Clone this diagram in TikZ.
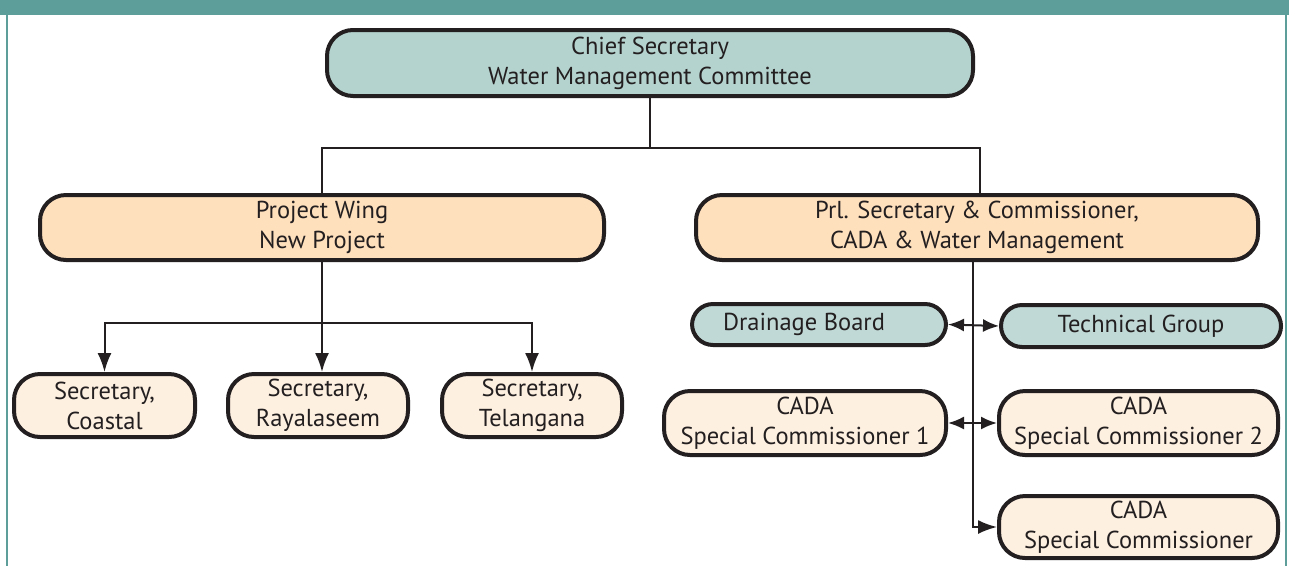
\documentclass[tikz,border=0pt]{standalone}
\usepackage{fontspec}
\setmainfont{PT Sans}
\usetikzlibrary{arrows.meta}
\definecolor{teal}{HTML}{5E9E9A}
\definecolor{tealfill}{HTML}{B5D3CE}
\definecolor{tealfillb}{HTML}{C0D9D6}
\definecolor{peach}{HTML}{FFE0BD}
\definecolor{cream}{HTML}{FEF0E1}
\definecolor{ink}{HTML}{231F20}
\tikzset{
  box/.style={draw=ink, line width=4pt, rounded corners=26pt, inner sep=0pt, align=center,
    font=\fontsize{24.5}{30}\selectfont, text=ink},
  pill/.style={box, rounded corners=21pt},
  conn/.style={draw=ink, line width=2pt},
  arr/.style={conn, arrows={-Latex[length=19pt,width=14pt]}},
  darr/.style={conn, arrows={Latex[length=16pt,width=13pt]-Latex[length=16pt,width=13pt]}},
}
\begin{document}
\begin{tikzpicture}[x=1pt,y=-1pt]
\useasboundingbox (0,0) rectangle (1289,566);
\fill[white] (0,0) rectangle (1289,566);
\fill[teal] (0,0) rectangle (1289,15);
\draw[teal, line width=2pt] (6.5,15) -- (6.5,566);
\draw[teal, line width=2pt] (1285.5,15) -- (1285.5,566);

\node[box, fill=tealfill, minimum width=646pt, minimum height=66pt] (chief) at (650,63) {Chief Secretary\\Water Management Committee};
\node[box, fill=peach, minimum width=564pt, minimum height=65pt] (pw) at (322,227.5) {Project Wing\\New Project};
\node[box, fill=peach, minimum width=562pt, minimum height=65pt] (prl) at (977,227.5) {Prl. Secretary \& Commissioner,\\CADA \& Water Management};

\node[box, fill=cream, minimum width=181pt, minimum height=63pt] (s1) at (104.5,405.5) {Secretary,\\Coastal};
\node[box, fill=cream, minimum width=180pt, minimum height=63pt] (s2) at (318,405.5) {Secretary,\\Rayalaseem};
\node[box, fill=cream, minimum width=180pt, minimum height=63pt] (s3) at (532,405.5) {Secretary,\\Telangana};

\node[pill, fill=tealfillb, minimum width=254pt, minimum height=41pt] (db) at (819,324.5) {Drainage Board\hspace*{30pt}};
\node[pill, fill=tealfillb, minimum width=280pt, minimum height=42pt] (tg) at (1141,326) {Technical Group};

\node[box, fill=cream, minimum width=282pt, minimum height=64pt] (sc1) at (805,423) {CADA\\Special Commissioner 1};
\node[box, fill=cream, minimum width=279pt, minimum height=64pt] (sc2) at (1138.5,423) {CADA\\Special Commissioner 2};
\node[box, fill=cream, minimum width=279pt, minimum height=62pt] (sc3) at (1138.5,527) {CADA\\Special Commissioner};

\coordinate (top) at (0,148);
\coordinate (bus) at (0,323);
\coordinate (spine) at (973,0);

\draw[conn] (chief.south) -- (chief.south |- top) -| (pw.north);
\draw[conn] (chief.south |- top) -| ([xshift=3pt]prl.north);

\draw[conn] (pw.south) -- (pw.south |- bus);
\draw[arr] (pw.south |- bus) -| (s1.north);
\draw[arr] (pw.south |- bus) -| (s3.north);
\draw[arr] (pw.south) -- (pw.south |- s2.north);

\draw[arr] (prl.south -| spine) |- (sc3.west);
\draw[darr] (db.east) -- (tg.west);
\draw[darr] (sc1.east) -- (sc2.west);
\end{tikzpicture}
\end{document}
